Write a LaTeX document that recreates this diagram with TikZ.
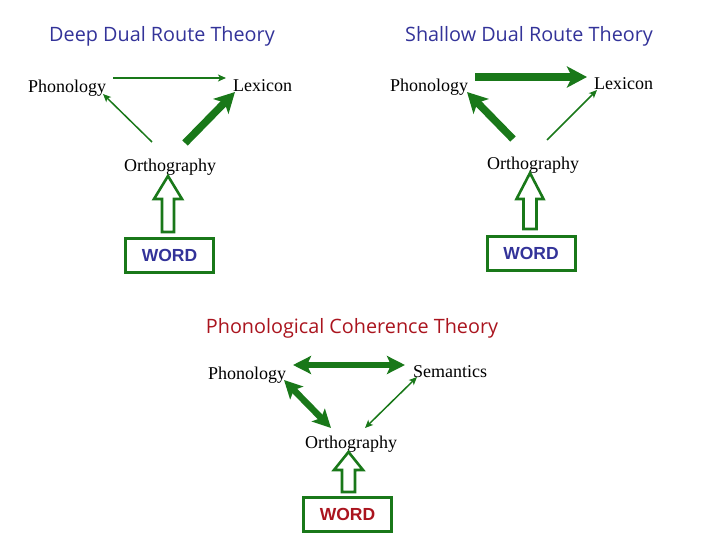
\documentclass[tikz,border=0pt]{standalone}
\usepackage{fontspec}
\setmainfont{Liberation Serif}
\newfontfamily\titlefont{Open Sans}
\newfontfamily\wordfont{Liberation Sans}
\usetikzlibrary{arrows.meta}
\definecolor{gr}{RGB}{25,120,25}
\definecolor{bl}{RGB}{51,51,153}
\definecolor{rd}{RGB}{170,20,30}
\tikzset{
  lbl/.style={anchor=base west,inner sep=0pt,font=\fontsize{18}{20}\selectfont},
  ttl/.style={anchor=base,inner sep=0pt,font=\titlefont\fontsize{19.8}{23}\selectfont},
  wordbox/.style={draw=gr,line width=3pt,minimum width=88pt,minimum height=34pt,inner sep=0pt,
    font=\wordfont\bfseries\fontsize{17.5}{20}\selectfont},
  thin/.style={draw=gr,line width=1.5pt,-{Stealth[length=8pt,width=7pt,inset=2pt]}},
  thinboth/.style={draw=gr,line width=1.5pt,{Stealth[length=8pt,width=7pt,inset=2pt]}-{Stealth[length=8pt,width=7pt,inset=2pt]}},
  thick/.style={draw=gr,line width=7.5pt,-{Stealth[length=20pt,width=21pt,inset=5pt]}},
  thickboth/.style={draw=gr,line width=6.5pt,{Stealth[length=18pt,width=18pt,inset=4pt]}-{Stealth[length=18pt,width=18pt,inset=4pt]}},
  hollow/.style={draw=gr,line width=2.6pt,fill=white,line join=miter}
}
\begin{document}
\begin{tikzpicture}[x=1pt,y=-1pt]
\useasboundingbox (0,0) rectangle (720,540);

% ---------- Deep Dual Route Theory ----------
\node[ttl,text=bl] (t1) at (162,42) {Deep Dual Route Theory};
\node[lbl] (p1) at (28,92.5) {Phonology};
\node[lbl] (l1) at (233,91.5) {Lexicon};
\node[lbl] (o1) at (124,171.5) {Orthography};
\node[wordbox,text=bl] (w1) at (169.5,255.5) {WORD};
\coordinate (p1a) at (113,78); \coordinate (l1a) at (226,78);
\coordinate (o1a) at (152,142); \coordinate (p1b) at (103,94);
\coordinate (o1b) at (185,143); \coordinate (l1b) at (235,92);
\draw[thin] (p1a) -- (l1a);
\draw[thin] (o1a) -- (p1b);
\draw[thick] (o1b) -- (l1b);
\draw[hollow] (162,232) -- (162,199) -- (154,199) -- (168,176) -- (182,199) -- (174,199) -- (174,232) -- cycle;

% ---------- Shallow Dual Route Theory ----------
\node[ttl,text=bl] (t2) at (529,42) {Shallow Dual Route Theory};
\node[lbl] (p2) at (390,91.5) {Phonology};
\node[lbl] (l2) at (594,89.5) {Lexicon};
\node[lbl] (o2) at (487,169.5) {Orthography};
\node[wordbox,text=bl] (w2) at (531,253.5) {WORD};
\coordinate (p2a) at (475,77); \coordinate (l2a) at (587,77);
\coordinate (o2a) at (513,139); \coordinate (p2b) at (467,92);
\coordinate (o2b) at (547,140); \coordinate (l2b) at (597,90);
\draw[thick] (p2a) -- (l2a);
\draw[thick] (o2a) -- (p2b);
\draw[thin] (o2b) -- (l2b);
\draw[hollow] (523.5,229) -- (523.5,199) -- (516.5,199) -- (530,173) -- (543.5,199) -- (536.5,199) -- (536.5,229) -- cycle;

% ---------- Phonological Coherence Theory ----------
\node[ttl,text=rd] (t3) at (352,333) {Phonological Coherence Theory};
\node[lbl] (p3) at (208,379.5) {Phonology};
\node[lbl] (s3) at (413,377.5) {Semantics};
\node[lbl] (o3) at (305,448.5) {Orthography};
\node[wordbox,text=rd] (w3) at (347.5,514.5) {WORD};
\coordinate (p3a) at (293,365); \coordinate (s3a) at (405,365);
\coordinate (p3b) at (284,380); \coordinate (o3a) at (331,428);
\coordinate (s3b) at (417,377); \coordinate (o3b) at (365,428);
\draw[thickboth] (p3a) -- (s3a);
\draw[thickboth] (p3b) -- (o3a);
\draw[thinboth] (s3b) -- (o3b);
\draw[hollow] (342,492) -- (342,470) -- (334,470) -- (348.5,452) -- (363,470) -- (355,470) -- (355,492) -- cycle;
\end{tikzpicture}
\end{document}
